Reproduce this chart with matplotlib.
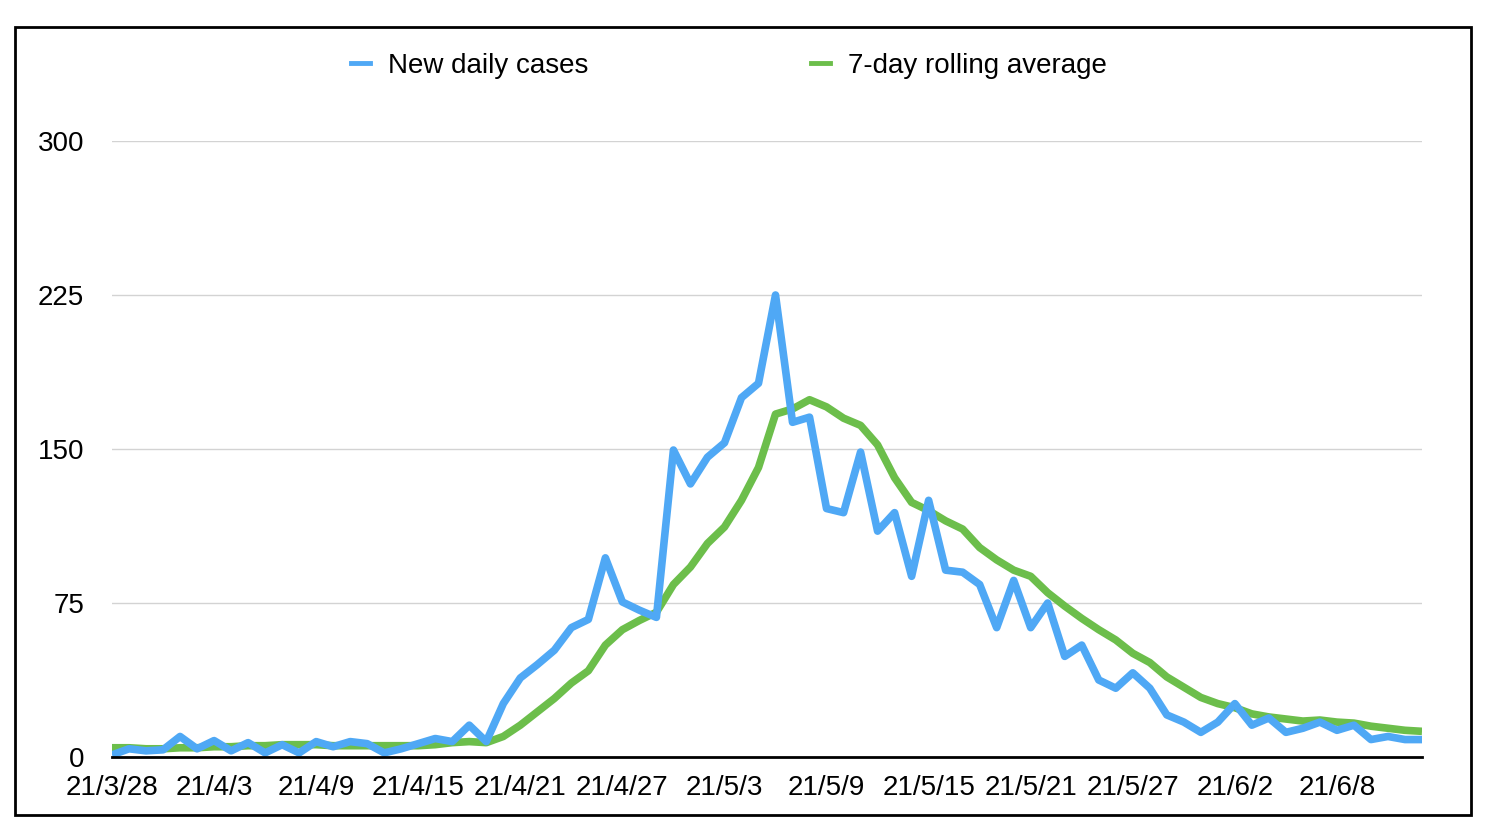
import matplotlib
matplotlib.use("Agg")
import matplotlib.pyplot as plt
from matplotlib.lines import Line2D
from matplotlib.patches import Rectangle
import numpy as np

plt.rcParams['font.family'] = ['Liberation Sans', 'DejaVu Sans']

# ---- data ----
start_date = "2021-03-28"
n_days = 78
new_daily_cases = [
    1, 4, 3, 3.5, 10, 4, 8, 3, 7, 2,
    6, 2, 7.5, 5, 7.5, 6.5, 2, 4, 6.5, 9,
    7.5, 15.5, 7.5, 26, 38.5, 45, 52, 63, 67, 97,
    75.5, 71.5, 68, 149.5, 133, 146, 153, 175, 182, 225,
    163, 165.5, 121, 119, 148.5, 110, 119, 88, 125, 91,
    90, 84, 63, 86, 63, 75, 49, 54.5, 37.5, 33.5,
    41, 33.5, 20.5, 17, 12, 17, 26, 15.5, 19, 12,
    14, 17, 13, 15.5, 8.5, 10, 8.5, 8.5,
]
rolling_avg = [
    4.5, 4.5, 4, 4, 4.5, 4.5, 5, 5, 5.5, 5.5,
    6, 6, 6, 5.5, 5.5, 5.5, 5.5, 5.5, 5.5, 6,
    7, 7.5, 7, 10, 15.5, 22, 28.5, 36, 42, 54.5,
    62, 66.5, 70.5, 84, 92.5, 104, 112, 125, 141, 167,
    169.5, 174, 170.5, 165, 161.5, 152, 136, 124, 120, 115,
    111, 102, 96, 91, 88, 80, 73.5, 67.5, 62, 57,
    50.5, 46, 39, 34, 29, 26, 24, 21, 19.5, 18.5,
    17.5, 18, 17, 16.5, 15, 14, 13, 12.5,
]
tick_positions = [0, 6, 12, 18, 24, 30, 36, 42, 48, 54, 60, 66, 72]
tick_labels = ["21/3/28", "21/4/3", "21/4/9", "21/4/15", "21/4/21", "21/4/27",
               "21/5/3", "21/5/9", "21/5/15", "21/5/21", "21/5/27", "21/6/2", "21/6/8"]
y_ticks = [0, 75, 150, 225, 300]
series_names = ["New daily cases", "7-day rolling average"]

BLUE = "#4fa8f5"
GREEN = "#6cbe4b"

x = np.arange(n_days)

fig = plt.figure(figsize=(15, 8.4), dpi=100)
ax = fig.add_axes([112/1500, 1-757/840, (1422-112)/1500, (757-141)/840])

ax.plot(x, rolling_avg, color=GREEN, lw=5.5, solid_joinstyle='round', solid_capstyle='butt', zorder=3)
ax.plot(x, new_daily_cases, color=BLUE, lw=5.5, solid_joinstyle='round', solid_capstyle='butt', zorder=4)

ax.set_xlim(0, n_days - 1)
ax.set_ylim(0, 300)
ax.set_yticks(y_ticks)
ax.set_xticks(tick_positions)
ax.set_xticklabels(tick_labels)
ax.tick_params(axis='both', length=0, labelsize=20)
ax.tick_params(axis='y', pad=20)
ax.tick_params(axis='x', pad=13)

for v in y_ticks[1:]:
    ax.axhline(v, color="#d3d3d3", lw=1, zorder=1)

for s in ['top', 'right', 'left']:
    ax.spines[s].set_visible(False)
ax.spines['bottom'].set_color('black')
ax.spines['bottom'].set_linewidth(2)
ax.spines['bottom'].set_zorder(5)

handles = [Line2D([0], [0], color=BLUE, lw=3.5), Line2D([0], [0], color=GREEN, lw=3.5)]
fig.legend(handles, series_names, loc='center', bbox_to_anchor=(729/1500, 1-66/840),
           ncol=2, frameon=False, fontsize=20, handlelength=0.7, handletextpad=0.65,
           columnspacing=8.0)

fig.patches.append(Rectangle((15/1500, 1-815/840), (1471-15)/1500, (815-27)/840,
                             transform=fig.transFigure, fill=False, edgecolor='black', lw=2))

fig.savefig("out.png", dpi=100)
